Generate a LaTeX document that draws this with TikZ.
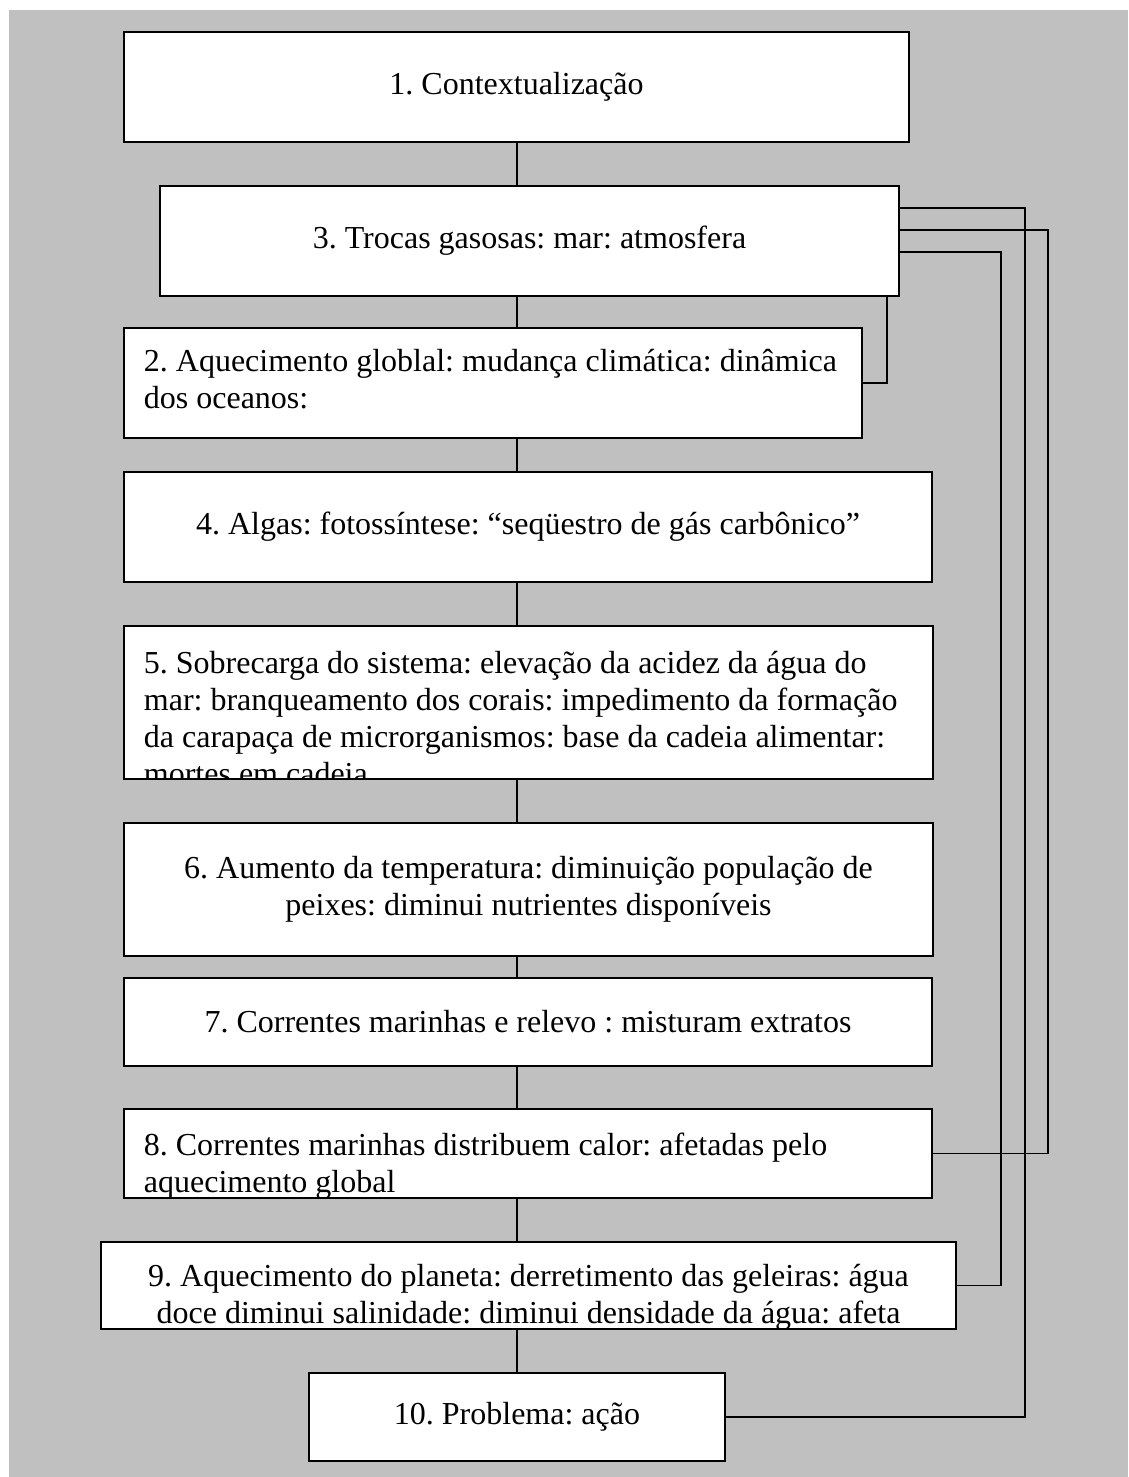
\documentclass[tikz,border=0pt]{standalone}
\usepackage{fontspec}
\setmainfont{Liberation Serif}
\usepackage{xcolor}
\definecolor{cinza}{RGB}{192,192,192}
\frenchspacing

\begin{document}
\begin{tikzpicture}[line cap=rect,line join=miter,x=1pt,y=-1pt]
\tikzstyle{every node}=[font=\fontsize{32}{37}\selectfont]
\tikzstyle{caixa}=[draw,fill=white,line width=1.8pt,inner sep=0pt,rectangle]
\tikzstyle{texto}=[draw=none,fill=none,inner sep=0pt,minimum width=0pt,minimum height=0pt]
\tikzstyle{linha}=[line width=1.6pt]
\useasboundingbox (0,0) rectangle (1128,1477);
\fill[cinza] (9,10) rectangle (1128,1477);
% caixas (anchor=base -> linha de base da ultima linha)
\node[caixa,minimum width=785pt,minimum height=110pt] (c1) at (516.5,87) {1. Contextualização};
\node[caixa,minimum width=739pt,minimum height=110pt] (c3) at (529.5,241) {3. Trocas gasosas: mar: atmosfera};
\node[caixa,minimum width=738pt,minimum height=110pt,path picture={
  \node[texto,anchor=base west,align=left] at ([shift={(19pt,-80pt)}]path picture bounding box.north west)
  {2. Aquecimento globlal: mudança climática: dinâmica\\dos oceanos:};}] (c2) at (493,383) {};
\node[caixa,minimum width=808pt,minimum height=110pt] (c4) at (528,527) {4. Algas: fotossíntese: “seqüestro de gás carbônico”};
\node[caixa,minimum width=809pt,minimum height=153pt,path picture={
  \node[texto,anchor=base west,align=left] at ([shift={(19pt,-158pt)}]path picture bounding box.north west)
  {5. Sobrecarga do sistema: elevação da acidez da água do\\mar: branqueamento dos corais: impedimento da formação\\da carapaça de microrganismos: base da cadeia alimentar:\\mortes em cadeia};}] (c5) at (528.5,702.5) {};
\node[caixa,minimum width=809pt,minimum height=133pt,align=center] (c6) at (528.5,889.5)
  {6. Aumento da temperatura: diminuição população de\\peixes: diminui nutrientes disponíveis};
\node[caixa,minimum width=808pt,minimum height=88pt] (c7) at (528,1022) {7. Correntes marinhas e relevo : misturam extratos};
\node[caixa,minimum width=808pt,minimum height=89pt,path picture={
  \node[texto,anchor=base west,align=left] at ([shift={(19pt,-83pt)}]path picture bounding box.north west)
  {8. Correntes marinhas distribuem calor: afetadas pelo\\aquecimento global};}] (c8) at (528,1153.5) {};
\node[caixa,minimum width=855pt,minimum height=87pt,path picture={
  \node[texto,anchor=base,align=center] at ([shift={(0pt,-81pt)}]path picture bounding box.north)
  {9. Aquecimento do planeta: derretimento das geleiras: água\\doce diminui salinidade: diminui densidade da água: afeta};}] (c9) at (528.5,1285.5) {};
\node[caixa,minimum width=416pt,minimum height=88pt] (c10) at (517,1417) {10. Problema: ação};
% ligacoes
\foreach \a/\b in {c1/c3,c3/c2,c2/c4,c4/c5,c5/c6,c6/c7,c7/c8,c8/c9,c9/c10}
\draw[linha] (\a.south -| c10) -- (\b.north -| c10);
\draw[linha] ([xshift=-13pt]c3.south east) |- (c2.east);
\coordinate (ra) at (1025,0);
\coordinate (rb) at (1048,0);
\coordinate (rc) at (1001,0);
\draw[linha] ([yshift=33pt]c3.east) -| (c10.east -| ra) -- (c10.east);
\draw[linha] ([yshift=11pt]c3.east) -| (c8.east -| rb) -- (c8.east);
\draw[linha] ([yshift=-11pt]c3.east) -| (c9.east -| rc) -- (c9.east);
\end{tikzpicture}
\end{document}
